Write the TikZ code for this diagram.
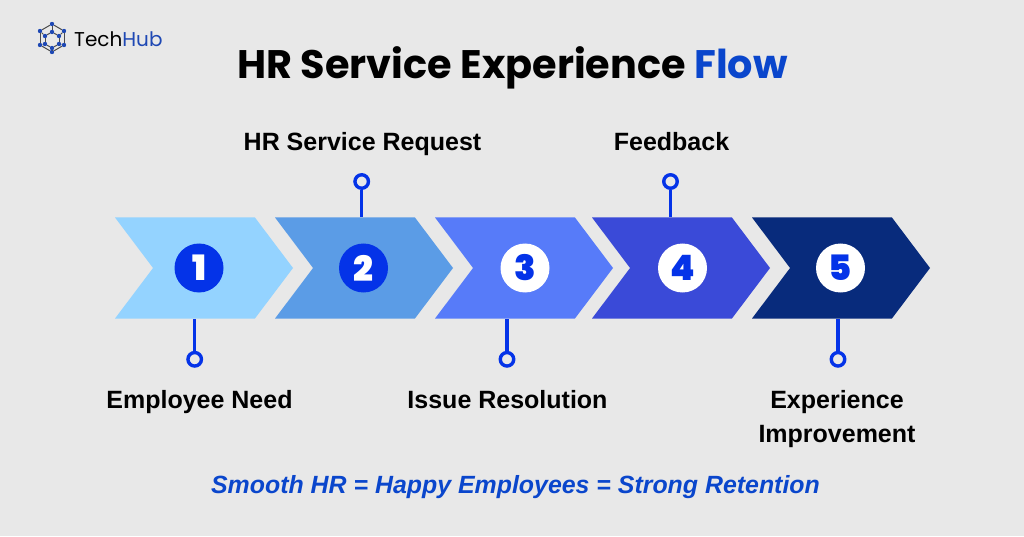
\documentclass[tikz,border=0pt]{standalone}
\usepackage{fontspec}
\usepackage{xcolor}
\setmainfont{Liberation Sans}
\newfontfamily\titlefont{Poppins}
\newfontfamily\numfont{Poppins Black}
\usetikzlibrary{shapes.symbols}
\definecolor{bgcol}{HTML}{E8E8E8}
\definecolor{blue1}{HTML}{0433E8}
\definecolor{blue2}{HTML}{0A46CC}
\definecolor{chev1}{HTML}{94D3FF}
\definecolor{chev2}{HTML}{5B9CE6}
\definecolor{chev3}{HTML}{577BF9}
\definecolor{chev4}{HTML}{3A4AD8}
\definecolor{chev5}{HTML}{082B7C}
\definecolor{logotxt}{HTML}{1E48B4}
\tikzstyle{chevron} = [signal, signal from=west, signal to=east, signal pointer angle=106, minimum width=178pt, minimum height=101pt, inner sep=0pt, draw=none]
\tikzstyle{numdark} = [circle, minimum size=49pt, inner sep=0pt, fill=blue1, text=white, font=\numfont\fontsize{35}{35}\selectfont]
\tikzstyle{numlight} = [circle, minimum size=49pt, inner sep=0pt, fill=white, text=blue1, font=\numfont\fontsize{35}{35}\selectfont]
\tikzstyle{dot} = [circle, minimum size=13.5pt, inner sep=0pt, draw=blue1, line width=3.4pt, fill=bgcol]
\tikzstyle{stem} = [line width=3.4pt, draw=blue1]
\tikzstyle{label} = [font=\bfseries\fontsize{25}{34}\selectfont]
\tikzstyle{logoedge} = [line width=1pt, draw=black!70]
\tikzstyle{logodot} = [circle, minimum size=4.4pt, inner sep=0pt, fill=logotxt]

\begin{document}
\begin{tikzpicture}[x=1pt, y=1pt, node distance=160pt]
          \fill [bgcol] (0,0) rectangle (1024,536);
          \useasboundingbox (0,0) rectangle (1024,536);
          % chevrons
          \node (step1) [chevron, fill=chev1] at (204,268) {};
          \node (step2) [chevron, fill=chev2, right of=step1] {};
          \node (step3) [chevron, fill=chev3, right of=step2] {};
          \node (step4) [chevron, fill=chev4, right of=step3, xshift=-3pt] {};
          \node (step5) [chevron, fill=chev5, right of=step4] {};
          % numbers
          \node (num1) [numdark] at (199,268) {1};
          \node (num2) [numdark] at (363.5,268) {2};
          \node (num3) [numlight] at (525,268) {3};
          \node (num4) [numlight] at (682.5,268) {4};
          \node (num5) [numlight] at (840.5,268) {5};
          % pins
          \node (dot1) [dot] at (194.7,176.7) {};
          \node (dot2) [dot] at (361.7,354.5) {};
          \node (dot3) [dot] at (507,176.7) {};
          \node (dot4) [dot] at (670.5,354.5) {};
          \node (dot5) [dot] at (838,176.7) {};
          \draw [stem] (dot1) -- (dot1 |- step1.south);
          \draw [stem] (dot2) -- (dot2 |- step2.north);
          \draw [stem] (dot3) -- (dot3 |- step3.south);
          \draw [stem] (dot4) -- (dot4 |- step4.north);
          \draw [stem] (dot5) -- (dot5 |- step5.south);
          % labels
          \node (need) [label, anchor=base] at (199.5,128) {Employee Need};
          \node (request) [label, anchor=base] at (362.5,385) {HR Service Request};
          \node (issue) [label, anchor=base] at (507.5,128) {Issue Resolution};
          \node (feedback) [label, anchor=base] at (671.5,385) {Feedback};
          \node (improve) [label, align=center] at (837,116.5) {Experience\\Improvement};
          % title
          \node (title) [font=\titlefont\bfseries\fontsize{39.8}{40}\selectfont] at (512.5,468) {HR Service Experience \textcolor{blue2}{Flow}};
          \node (motto) [text=blue2, font=\bfseries\itshape\fontsize{24.9}{25}\selectfont] at (515.5,49) {Smooth HR = Happy Employees = Strong Retention};
          % logo
          \node (brand) [anchor=west, inner sep=0pt, font=\titlefont\fontsize{20}{20}\selectfont] at (74,497) {Tech\textcolor{logotxt}{Hub}};
          \foreach \a/\b in {52/512, 64/505, 64/491, 52/484, 40/491, 40/505, 52/504, 59/500, 59/492, 52/488, 45/492, 45/500}
            \node (p\a-\b) [logodot] at (\a,\b) {};
          \foreach \a/\b in {52-512/64-505, 64-505/64-491, 64-491/52-484, 52-484/40-491, 40-491/40-505, 40-505/52-512, 52-504/59-500, 59-500/59-492, 59-492/52-488, 52-488/45-492, 45-492/45-500, 45-500/52-504, 52-512/52-504, 64-505/59-500, 64-491/59-492, 52-484/52-488, 40-491/45-492, 40-505/45-500}
            \draw [logoedge] (p\a) -- (p\b);
        \end{tikzpicture}
\end{document}
